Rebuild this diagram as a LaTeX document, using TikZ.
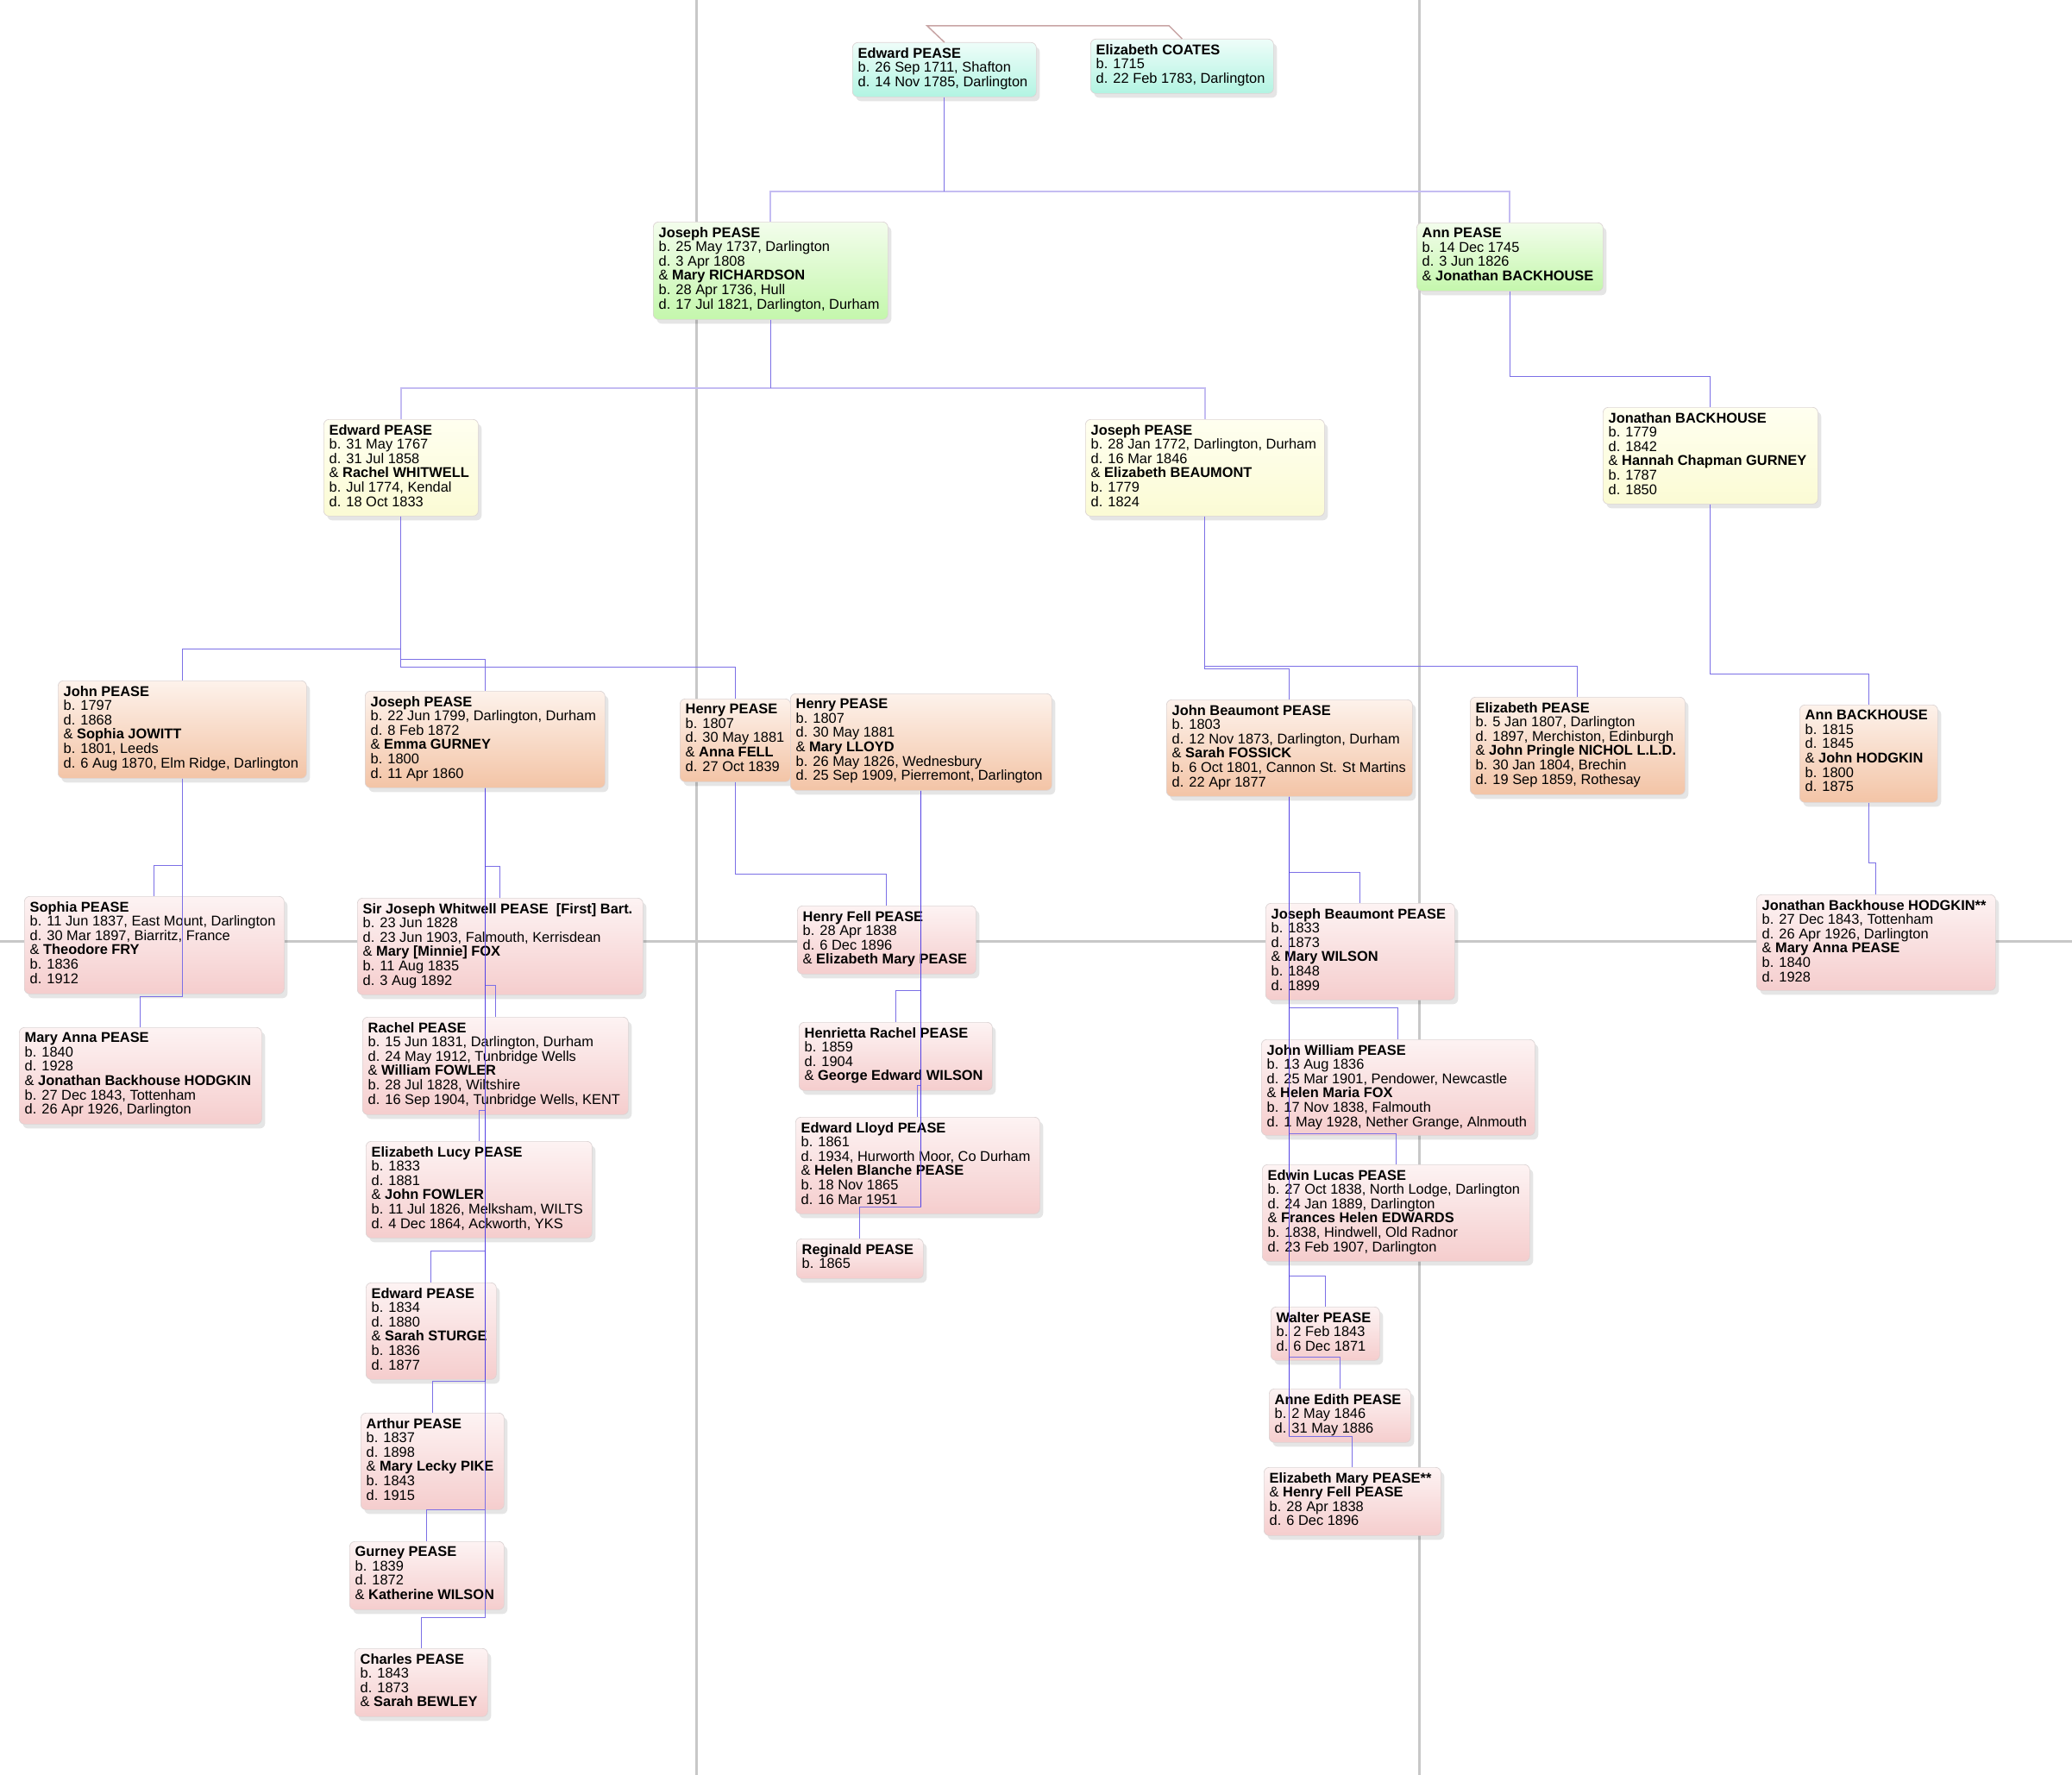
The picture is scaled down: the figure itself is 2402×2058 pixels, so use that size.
\documentclass[tikz,border=0pt]{standalone}
\usepackage{fontspec}
\setmainfont{Liberation Sans}
\usetikzlibrary{shadows}
\definecolor{linkc}{RGB}{124,112,230}
\definecolor{linkd}{RGB}{84,66,228}
\definecolor{linkl}{RGB}{196,188,242}
\definecolor{gridc}{RGB}{200,200,200}
\definecolor{spousec}{RGB}{200,165,165}
\definecolor{cardborder}{RGB}{220,212,212}
\tikzset{
  card/.style={draw=cardborder, line width=0.7pt, rounded corners=6pt, inner sep=0pt,
    drop shadow={shadow xshift=4pt, shadow yshift=-5pt, opacity=0.10, fill=black}},
  gzero/.style={card, top color={rgb,255:red,238;green,253;blue,249}, bottom color={rgb,255:red,178;green,244;blue,226}},
  gone/.style={card, top color={rgb,255:red,243;green,253;blue,236}, bottom color={rgb,255:red,196;green,247;blue,172}},
  gtwo/.style={card, top color={rgb,255:red,255;green,255;blue,240}, bottom color={rgb,255:red,251;green,251;blue,212}},
  gthree/.style={card, top color={rgb,255:red,253;green,242;blue,235}, bottom color={rgb,255:red,243;green,196;blue,166}},
  gfour/.style={card, top color={rgb,255:red,253;green,243;blue,243}, bottom color={rgb,255:red,245;green,205;blue,205}},
  txt/.style={anchor=north west, inner sep=0pt, align=left, font=\fontsize{16.4}{16.6}\selectfont},
  link/.style={draw=linkc, line width=1pt},
  linkdark/.style={draw=linkd, line width=1.1pt},
  linklight/.style={draw=linkl, line width=2pt},
  spouse/.style={draw=spousec, line width=1.5pt},
  gridline/.style={draw=gridc, line width=3pt}
}
\newcommand\famcard[7]{%
  \node[#2, anchor=north west, minimum width={#5-#3}, minimum height={#6-#4}] (#1) at (#3,#4) {};
  \node[txt] (#1t) at ([xshift=6.5pt,yshift=-6pt]#1.north west) {#7};}
\begin{document}
\begin{tikzpicture}[x=1pt,y=-1pt]
\fill[white] (0,0) rectangle (2402,2058);
\useasboundingbox (0,0) rectangle (2402,2058);
% background grid lines
\draw[gridline] (807,0) -- (807,2058);
\draw[gridline] (1645,0) -- (1645,2058);
\draw[gridline] (0,1091) -- (2402,1091);

% generation 0
\famcard{e0}{gzero}{988}{49}{1201}{112}{\textbf{Edward PEASE}\\b. 26 Sep 1711, Shafton\\d. 14 Nov 1785, Darlington}
\famcard{c0}{gzero}{1264}{45}{1476}{108}{\textbf{Elizabeth COATES}\\b. 1715\\d. 22 Feb 1783, Darlington}

% generation 1
\famcard{j1}{gone}{757}{257}{1029}{370}{\textbf{Joseph PEASE}\\b. 25 May 1737, Darlington\\d. 3 Apr 1808\\\& \textbf{Mary RICHARDSON}\\b. 28 Apr 1736, Hull\\d. 17 Jul 1821, Darlington, Durham}
\famcard{a1}{gone}{1642}{258}{1858}{337}{\textbf{Ann PEASE}\\b. 14 Dec 1745\\d. 3 Jun 1826\\\& \textbf{Jonathan BACKHOUSE}}

% generation 2
\famcard{e2}{gtwo}{375}{486}{554}{598}{\textbf{Edward PEASE}\\b. 31 May 1767\\d. 31 Jul 1858\\\& \textbf{Rachel WHITWELL}\\b. Jul 1774, Kendal\\d. 18 Oct 1833}
\famcard{j2}{gtwo}{1258}{486}{1535}{598}{\textbf{Joseph PEASE}\\b. 28 Jan 1772, Darlington, Durham\\d. 16 Mar 1846\\\& \textbf{Elizabeth BEAUMONT}\\b. 1779\\d. 1824}
\famcard{jb2}{gtwo}{1858}{472}{2107}{584}{\textbf{Jonathan BACKHOUSE}\\b. 1779\\d. 1842\\\& \textbf{Hannah Chapman GURNEY}\\b. 1787\\d. 1850}

% generation 3
\famcard{jn3}{gthree}{67}{789}{355}{902}{\textbf{John PEASE}\\b. 1797\\d. 1868\\\& \textbf{Sophia JOWITT}\\b. 1801, Leeds\\d. 6 Aug 1870, Elm Ridge, Darlington}
\famcard{j3}{gthree}{423}{801}{701}{913}{\textbf{Joseph PEASE}\\b. 22 Jun 1799, Darlington, Durham\\d. 8 Feb 1872\\\& \textbf{Emma GURNEY}\\b. 1800\\d. 11 Apr 1860}
\famcard{h3a}{gthree}{788}{810}{916}{906}{\textbf{Henry PEASE}\\b. 1807\\d. 30 May 1881\\\& \textbf{Anna FELL}\\d. 27 Oct 1839}
\famcard{h3b}{gthree}{916}{804}{1219}{916}{\textbf{Henry PEASE}\\b. 1807\\d. 30 May 1881\\\& \textbf{Mary LLOYD}\\b. 26 May 1826, Wednesbury\\d. 25 Sep 1909, Pierremont, Darlington}
\famcard{jbp3}{gthree}{1352}{811}{1637}{923}{\textbf{John Beaumont PEASE}\\b. 1803\\d. 12 Nov 1873, Darlington, Durham\\\& \textbf{Sarah FOSSICK}\\b. 6 Oct 1801, Cannon St. St Martins\\d. 22 Apr 1877}
\famcard{ep3}{gthree}{1704}{808}{1953}{921}{\textbf{Elizabeth PEASE}\\b. 5 Jan 1807, Darlington\\d. 1897, Merchiston, Edinburgh\\\& \textbf{John Pringle NICHOL L.L.D.}\\b. 30 Jan 1804, Brechin\\d. 19 Sep 1859, Rothesay}
\famcard{ab3}{gthree}{2086}{817}{2246}{930}{\textbf{Ann BACKHOUSE}\\b. 1815\\d. 1845\\\& \textbf{John HODGKIN}\\b. 1800\\d. 1875}

% generation 4
\famcard{sp4}{gfour}{28}{1039}{329}{1152}{\textbf{Sophia PEASE}\\b. 11 Jun 1837, East Mount, Darlington\\d. 30 Mar 1897, Biarritz, France\\\& \textbf{Theodore FRY}\\b. 1836\\d. 1912}
\famcard{ma4}{gfour}{22}{1191}{303}{1303}{\textbf{Mary Anna PEASE}\\b. 1840\\d. 1928\\\& \textbf{Jonathan Backhouse HODGKIN}\\b. 27 Dec 1843, Tottenham\\d. 26 Apr 1926, Darlington}
\famcard{sj4}{gfour}{414}{1041}{745}{1153}{\textbf{Sir Joseph Whitwell PEASE\ \ [First] Bart.}\\b. 23 Jun 1828\\d. 23 Jun 1903, Falmouth, Kerrisdean\\\& \textbf{Mary [Minnie] FOX}\\b. 11 Aug 1835\\d. 3 Aug 1892}
\famcard{rp4}{gfour}{420}{1179}{728}{1292}{\textbf{Rachel PEASE}\\b. 15 Jun 1831, Darlington, Durham\\d. 24 May 1912, Tunbridge Wells\\\& \textbf{William FOWLER}\\b. 28 Jul 1828, Wiltshire\\d. 16 Sep 1904, Tunbridge Wells, KENT}
\famcard{el4}{gfour}{424}{1323}{686}{1435}{\textbf{Elizabeth Lucy PEASE}\\b. 1833\\d. 1881\\\& \textbf{John FOWLER}\\b. 11 Jul 1826, Melksham, WILTS\\d. 4 Dec 1864, Ackworth, YKS}
\famcard{ed4}{gfour}{424}{1487}{575}{1599}{\textbf{Edward PEASE}\\b. 1834\\d. 1880\\\& \textbf{Sarah STURGE}\\b. 1836\\d. 1877}
\famcard{ar4}{gfour}{418}{1638}{584}{1750}{\textbf{Arthur PEASE}\\b. 1837\\d. 1898\\\& \textbf{Mary Lecky PIKE}\\b. 1843\\d. 1915}
\famcard{gu4}{gfour}{405}{1787}{584}{1866}{\textbf{Gurney PEASE}\\b. 1839\\d. 1872\\\& \textbf{Katherine WILSON}}
\famcard{ch4}{gfour}{411}{1911}{565}{1990}{\textbf{Charles PEASE}\\b. 1843\\d. 1873\\\& \textbf{Sarah BEWLEY}}
\famcard{hf4}{gfour}{924}{1050}{1131}{1129}{\textbf{Henry Fell PEASE}\\b. 28 Apr 1838\\d. 6 Dec 1896\\\& \textbf{Elizabeth Mary PEASE}}
\famcard{hr4}{gfour}{926}{1185}{1150}{1264}{\textbf{Henrietta Rachel PEASE}\\b. 1859\\d. 1904\\\& \textbf{George Edward WILSON}}
\famcard{elp4}{gfour}{922}{1295}{1205}{1407}{\textbf{Edward Lloyd PEASE}\\b. 1861\\d. 1934, Hurworth Moor, Co Durham\\\& \textbf{Helen Blanche PEASE}\\b. 18 Nov 1865\\d. 16 Mar 1951}
\famcard{rg4}{gfour}{923}{1436}{1070}{1482}{\textbf{Reginald PEASE}\\b. 1865}
\famcard{jbe4}{gfour}{1467}{1047}{1686}{1159}{\textbf{Joseph Beaumont PEASE}\\b. 1833\\d. 1873\\\& \textbf{Mary WILSON}\\b. 1848\\d. 1899}
\famcard{jw4}{gfour}{1462}{1205}{1779}{1316}{\textbf{John William PEASE}\\b. 13 Aug 1836\\d. 25 Mar 1901, Pendower, Newcastle\\\& \textbf{Helen Maria FOX}\\b. 17 Nov 1838, Falmouth\\d. 1 May 1928, Nether Grange, Alnmouth}
\famcard{ew4}{gfour}{1463}{1350}{1773}{1462}{\textbf{Edwin Lucas PEASE}\\b. 27 Oct 1838, North Lodge, Darlington\\d. 24 Jan 1889, Darlington\\\& \textbf{Frances Helen EDWARDS}\\b. 1838, Hindwell, Old Radnor\\d. 23 Feb 1907, Darlington}
\famcard{wa4}{gfour}{1473}{1515}{1599}{1577}{\textbf{Walter PEASE}\\b. 2 Feb 1843\\d. 6 Dec 1871}
\famcard{ae4}{gfour}{1471}{1610}{1635}{1672}{\textbf{Anne Edith PEASE}\\b. 2 May 1846\\d. 31 May 1886}
\famcard{em4}{gfour}{1465}{1701}{1670}{1780}{\textbf{Elizabeth Mary PEASE**}\\\& \textbf{Henry Fell PEASE}\\b. 28 Apr 1838\\d. 6 Dec 1896}
\famcard{jbh4}{gfour}{2036}{1037}{2313}{1148}{\textbf{Jonathan Backhouse HODGKIN**}\\b. 27 Dec 1843, Tottenham\\d. 26 Apr 1926, Darlington\\\& \textbf{Mary Anna PEASE}\\b. 1840\\d. 1928}

% connectors
\draw[spouse] (e0.north) -- ++(-20,-19) -- ([xshift=-15pt,yshift=15pt]c0.north) -- (c0.north);
\draw[linklight] (e0.south |- 0,222) -| (j1.north);
\draw[linklight] (e0.south |- 0,222) -| (a1.north);
\draw[link] (e0.south) -- (e0.south |- 0,222);
\draw[linklight] (j1.south |- 0,450) -| (e2.north);
\draw[linklight] (j1.south |- 0,450) -| (j2.north);
\draw[link] (j1.south) -- (j1.south |- 0,450);
\draw[link] (a1.south) |- (jb2.north |- 0,436) -- (jb2.north);

\draw[link] (e2.south) |- (jn3.north |- 0,752.7) -- (jn3.north);
\draw[link] (e2.south) |- (j3.north |- 0,764.7) -- (j3.north);
\draw[link] (e2.south) |- (h3a.north |- 0,773.7) -- (h3a.north);
\draw[link] (j2.south) |- (ep3.north |- 0,772) -- (ep3.north);
\draw[link] (j2.south) |- (jbp3.north |- 0,775) -- (jbp3.north);
\draw[link] (jb2.south) |- (ab3.north |- 0,781) -- (ab3.north);

\draw[link] (jn3.south) |- (sp4.north |- 0,1003.3) -- (sp4.north);
\draw[link] (jn3.south) |- (ma4.north |- 0,1155) -- (ma4.north);

\draw[link] (j3.south) |- (sj4.north |- 0,1004.3) -- (sj4.north);
\draw[link] (j3.south) |- (rp4.north |- 0,1142.7) -- (rp4.north);
\draw[link] (j3.south) |- (el4.north |- 0,1287) -- (el4.north);
\draw[link] (j3.south) |- (ed4.north |- 0,1450.3) -- (ed4.north);
\draw[link] (j3.south) |- (ar4.north |- 0,1601.7) -- (ar4.north);
\draw[link] (j3.south) |- (gu4.north |- 0,1750.3) -- (gu4.north);
\draw[link] (j3.south) |- (ch4.north |- 0,1875) -- (ch4.north);
\draw[linkdark] (j3.south) -- (j3.south |- 0,1601.7);

\draw[link] (h3a.south) |- (hf4.north |- 0,1013.7) -- (hf4.north);

\draw[link] (h3b.south) |- (hr4.north |- 0,1148.7) -- (hr4.north);
\draw[link] (h3b.south) |- (elp4.north |- 0,1258.3) -- (elp4.north);
\draw[link] (h3b.south) |- (rg4.north |- 0,1399) -- (rg4.north);
\draw[linkdark] (h3b.south) -- (h3b.south |- 0,1399);

\draw[link] (jbp3.south) |- (jbe4.north |- 0,1011) -- (jbe4.north);
\draw[link] (jbp3.south) |- (jw4.north |- 0,1168.7) -- (jw4.north);
\draw[link] (jbp3.south) |- (ew4.north |- 0,1314) -- (ew4.north);
\draw[link] (jbp3.south) |- (wa4.north |- 0,1479) -- (wa4.north);
\draw[link] (jbp3.south) |- (ae4.north |- 0,1573.3) -- (ae4.north);
\draw[link] (jbp3.south) |- (em4.north |- 0,1665) -- (em4.north);
\draw[linkdark] (jbp3.south) -- (jbp3.south |- 0,1665);

\draw[link] (ab3.south) |- (jbh4.north |- 0,1000) -- (jbh4.north);
\end{tikzpicture}
\end{document}
